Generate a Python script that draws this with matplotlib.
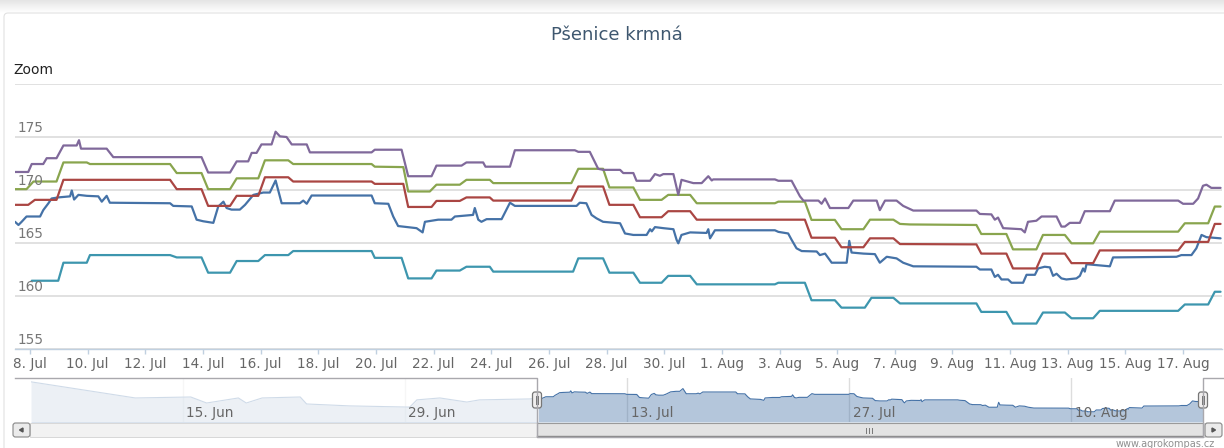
import numpy as np
import pandas as pd
import matplotlib
matplotlib.use("Agg")
import matplotlib.pyplot as plt
from matplotlib.patches import Rectangle, FancyBboxPatch, Polygon

# ---------------- data (x = days since 8 Jul 2014, y = price) ----------------
base_date = pd.Timestamp("2014-07-08")
title_text = "Pšenice krmná"

blue_t = [-0.52, -0.40, -0.29, -0.12, 0.35, 0.46, 0.64, 0.75, 0.98, 1.39, 1.45, 1.53, 1.68, 1.97, 2.37, 2.49,
          2.66, 2.77, 4.86, 4.97, 5.61, 5.78, 6.01, 6.36, 6.53, 6.71, 6.82, 6.99, 7.28, 7.46, 7.75, 8.09,
          8.32, 8.52, 8.73, 9.36, 9.48, 9.60, 9.77, 11.85, 11.96, 12.43, 12.6, 12.77, 13.41, 13.62, 13.7,
          14.16, 14.62, 14.74, 15.37, 15.43, 15.55, 15.66, 15.84, 16.36, 16.65, 16.82, 18.96, 19.07, 19.3,
          19.48, 19.65, 19.88, 20.47, 20.64, 20.93, 21.39, 21.51, 21.57, 21.68, 21.97, 22.32, 22.43, 22.49,
          22.6, 22.9, 23.47, 23.53, 23.59, 23.76, 25.84, 25.96, 26.3, 26.42, 26.59, 26.77, 27.29, 27.4,
          27.58, 27.81, 28.33, 28.42, 28.5, 28.91, 29.31, 29.48, 29.72, 30.06, 30.29, 30.64, 32.83, 32.95,
          33.35, 33.47, 33.58, 33.7, 33.93, 34.05, 34.45, 34.57, 34.86, 34.97, 35.2, 35.38, 35.49, 35.61,
          35.78, 35.95, 36.3, 36.42, 36.53, 36.59, 36.65, 37.46, 37.57, 39.77, 39.94, 40.29, 40.46, 40.64,
          40.81, 41.3]
blue_v = [167.0, 166.7, 167.0, 167.5, 167.5, 168.1, 168.75, 169.2, 169.3, 169.4, 169.95, 169.1, 169.54, 169.45,
          169.4, 168.9, 169.45, 168.8, 168.75, 168.5, 168.45, 167.2, 167.05, 166.9, 168.44, 168.9, 168.3,
          168.15, 168.15, 168.6, 169.54, 169.76, 169.76, 170.9, 168.75, 168.75, 169.0, 168.7, 169.48, 169.48,
          168.75, 168.7, 167.5, 166.6, 166.4, 166.0, 167.0, 167.2, 167.2, 167.5, 167.65, 168.3, 167.2, 167.0,
          167.25, 167.25, 168.8, 168.5, 168.5, 168.8, 168.75, 167.65, 167.33, 167.0, 166.86, 165.9, 165.76,
          165.76, 166.3, 166.1, 166.5, 166.4, 166.3, 165.3, 164.97, 165.76, 166.0, 165.95, 166.3, 165.44,
          166.2, 166.2, 166.05, 165.9, 165.3, 164.5, 164.24, 164.2, 163.86, 164.0, 163.14, 163.14, 165.2,
          164.1, 164.0, 163.95, 163.14, 163.7, 163.55, 163.14, 162.8, 162.76, 162.5, 162.5, 161.8, 162.0,
          161.56, 161.56, 161.25, 161.25, 162.0, 162.0, 162.6, 162.76, 162.7, 161.9, 162.1, 161.66, 161.56,
          161.66, 161.9, 162.6, 162.3, 163.0, 162.8, 163.64, 163.7, 163.86, 163.86, 164.5, 165.76, 165.55,
          165.44]

red_t = [-0.52, -0.06, 0.17, 0.92, 1.16, 4.86, 5.09, 5.95, 6.18, 6.94, 7.17, 7.92, 8.15, 8.96, 9.13, 11.85,
         11.96, 12.95, 13.12, 13.93, 14.1, 14.91, 15.14, 15.95, 16.07, 18.78, 19.02, 19.88, 20.1, 20.93,
         21.16, 21.91, 22.14, 22.9, 23.13, 26.88, 27.11, 27.92, 28.15, 28.91, 29.14, 29.95, 30.18, 32.83,
         33.0, 33.87, 34.1, 34.91, 35.14, 35.9, 36.13, 36.88, 37.11, 39.83, 40.06, 40.87, 41.1, 41.3]
red_v = [168.6, 168.6, 169.07, 169.07, 170.96, 170.96, 170.08, 170.08, 168.5, 168.5, 169.45, 169.45, 171.2,
         171.2, 170.8, 170.8, 170.58, 170.58, 168.4, 168.4, 168.97, 168.97, 169.3, 169.3, 169.0, 169.0,
         170.33, 170.33, 168.6, 168.6, 167.43, 167.43, 168.0, 168.0, 167.2, 167.2, 165.5, 165.5, 164.6,
         164.6, 165.44, 165.44, 164.9, 164.87, 164.0, 164.0, 162.6, 162.6, 164.0, 164.0, 163.1, 163.1,
         164.3, 164.3, 165.1, 165.1, 166.8, 166.8]

green_t = [-0.52, -0.12, 0.12, 0.92, 1.16, 1.97, 2.08, 4.86, 5.09, 5.95, 6.18, 6.94, 7.17, 7.92, 8.15, 8.96,
           9.13, 11.85, 11.96, 12.95, 13.12, 13.87, 14.1, 14.91, 15.14, 15.95, 16.07, 18.78, 19.02, 19.88,
           20.1, 20.93, 21.16, 21.91, 22.14, 22.9, 23.13, 25.84, 25.96, 26.88, 27.11, 27.92, 28.15, 28.91,
           29.14, 29.95, 30.18, 30.52, 32.83, 33.0, 33.87, 34.1, 34.91, 35.14, 35.9, 36.13, 36.88, 37.11,
           39.83, 40.06, 40.87, 41.1, 41.3]
green_v = [170.08, 170.08, 170.8, 170.8, 172.6, 172.6, 172.45, 172.45, 171.6, 171.6, 170.08, 170.08, 171.1,
           171.1, 172.8, 172.8, 172.45, 172.45, 172.2, 172.16, 169.86, 169.86, 170.5, 170.5, 170.96, 170.96,
           170.65, 170.65, 172.0, 172.0, 170.24, 170.24, 169.07, 169.07, 169.54, 169.54, 168.75, 168.75,
           168.9, 168.9, 167.18, 167.18, 166.3, 166.3, 167.2, 167.2, 166.8, 166.75, 166.7, 165.85, 165.85,
           164.4, 164.4, 165.76, 165.76, 164.97, 164.97, 166.07, 166.07, 166.86, 166.86, 168.44, 168.44]

purple_t = [-0.52, -0.06, 0.06, 0.46, 0.58, 0.92, 1.16, 1.62, 1.70, 1.77, 2.66, 2.89, 5.95, 6.18, 6.94, 7.17,
            7.57, 7.69, 7.86, 8.03, 8.38, 8.52, 8.67, 8.90, 9.08, 9.60, 9.71, 11.85, 11.96, 12.89, 13.12,
            13.93, 14.1, 14.97, 15.14, 15.72, 15.8, 16.65, 16.82, 18.9, 19.02, 19.42, 19.71, 19.88, 20.47,
            20.58, 20.93, 21.04, 21.51, 21.68, 21.85, 21.97, 22.32, 22.49, 22.6, 23.01, 23.3, 23.53, 23.65,
            23.7, 25.84, 25.96, 26.42, 26.71, 26.83, 27.35, 27.46, 27.58, 27.75, 28.39, 28.56, 29.37, 29.48,
            29.66, 30.06, 30.29, 30.64, 32.83, 32.95, 33.35, 33.47, 33.58, 33.76, 34.39, 34.51, 34.62, 34.91,
            35.09, 35.61, 35.78, 35.9, 36.07, 36.42, 36.59, 37.46, 37.63, 39.83, 40.0, 40.35, 40.52, 40.69,
            40.81, 40.98, 41.3]
purple_v = [171.7, 171.7, 172.45, 172.45, 173.0, 173.0, 174.2, 174.2, 174.7, 173.9, 173.9, 173.1, 173.1,
            171.65, 171.65, 172.7, 172.7, 173.5, 173.5, 174.3, 174.3, 175.5, 175.06, 175.0, 174.3, 174.3,
            173.55, 173.55, 173.8, 173.8, 171.3, 171.3, 172.3, 172.3, 172.6, 172.6, 172.2, 172.2, 173.75,
            173.75, 173.6, 173.6, 172.0, 171.9, 171.9, 171.6, 171.6, 170.87, 170.87, 171.5, 171.34, 171.5,
            171.5, 169.54, 170.96, 170.65, 170.65, 171.3, 170.9, 171.0, 171.0, 170.87, 170.87, 169.4, 169.0,
            169.0, 168.7, 169.2, 168.3, 168.3, 169.0, 169.0, 168.1, 169.0, 169.0, 168.5, 168.06, 168.06,
            167.74, 167.7, 167.2, 167.4, 166.4, 166.3, 166.0, 167.0, 167.1, 167.5, 167.5, 166.55, 166.55,
            166.9, 166.9, 168.0, 168.0, 169.0, 169.0, 168.7, 168.7, 169.2, 170.4, 170.5, 170.2, 170.2]

teal_t = [0.06, 0.98, 1.16, 1.97, 2.08, 4.86, 5.09, 5.95, 6.18, 6.94, 7.17, 7.92, 8.15, 8.96, 9.13, 11.85,
          11.96, 12.89, 13.12, 13.93, 14.1, 14.91, 15.14, 15.95, 16.07, 18.84, 19.02, 19.88, 20.1, 20.93,
          21.16, 21.91, 22.14, 22.9, 23.13, 25.84, 25.96, 26.88, 27.11, 27.92, 28.15, 28.96, 29.19, 29.95,
          30.18, 32.83, 33.0, 33.87, 34.1, 34.91, 35.14, 35.9, 36.13, 36.88, 37.11, 39.83, 40.06, 40.87,
          41.1, 41.3]
teal_v = [161.44, 161.44, 163.14, 163.14, 163.86, 163.86, 163.64, 163.64, 162.2, 162.2, 163.3, 163.3, 163.86,
          163.86, 164.24, 164.24, 163.6, 163.6, 161.66, 161.66, 162.4, 162.4, 162.76, 162.76, 162.3, 162.3,
          163.55, 163.55, 162.2, 162.2, 161.25, 161.25, 161.9, 161.9, 161.1, 161.1, 161.25, 161.25, 159.6,
          159.6, 158.9, 158.9, 159.83, 159.83, 159.3, 159.3, 158.5, 158.5, 157.4, 157.4, 158.44, 158.44,
          157.9, 157.9, 158.6, 158.6, 159.2, 159.2, 160.4, 160.4]

# navigator: earlier history of the first series (before the zoomed window)
nav_early_t = [-32.57, -26.0, -22.5, -21.5, -19.5, -19.0, -18.0, -15.6, -15.2, -12.5, -8.7, -8.25, -6.8,
               -5.1, -4.3, -1.1]
nav_early_v = [173.7, 167.0, 167.4, 164.9, 167.0, 164.9, 167.0, 167.4, 164.5, 163.7, 163.2, 166.2, 167.0,
               165.3, 166.2, 166.6]

series = [
    (blue_t, blue_v, "#4572A7"),
    (red_t, red_v, "#AA4643"),
    (green_t, green_v, "#89A54E"),
    (purple_t, purple_v, "#80699B"),
    (teal_t, teal_v, "#3D96AE"),
]

y_ticks = [155, 160, 165, 170, 175, 180]
x_tick_dates = pd.date_range("2014-07-08", "2014-08-17", freq="2D")
nav_tick_dates = pd.date_range("2014-06-15", "2014-08-10", freq="14D")
view_range = (-0.52, 41.35)
nav_yrange = (157.0, 175.3)


def day_of(d):
    return (d - base_date) / pd.Timedelta(days=1)


def fmt(d):
    return f"{d.day}. {d.strftime('%b')}"


# ---------------- figure ----------------
W, H = 1224, 448
fig = plt.figure(figsize=(W / 100, H / 100), dpi=100)
fig.patch.set_facecolor("white")


def px_axes(l, t, r, b, **kw):
    return fig.add_axes([l / W, 1 - b / H, (r - l) / W, (b - t) / H], **kw)


# background / decorations layer
bg = px_axes(0, 0, W, H, zorder=0)
bg.set_xlim(0, W)
bg.set_ylim(H, 0)
bg.axis("off")
grad = np.linspace(0.90, 1.0, 14).reshape(-1, 1)
bg.imshow(np.dstack([grad, grad, grad]), extent=(0, W, 13, 0), aspect="auto", interpolation="bilinear")
bg.add_patch(FancyBboxPatch((4, 13), W + 20, H, boxstyle="round,pad=0,rounding_size=4",
                            facecolor="white", edgecolor="#e2e2e2", lw=0.8))

fig.text(617 / W, 1 - 35 / H, title_text, ha="center", va="center", fontsize=13, color="#3E576F")
fig.text(13 / W, 1 - 70 / H, "Zoom", ha="left", va="center", fontsize=10, color="#222222")

# ---------------- main plot ----------------
ax = px_axes(15, 84, 1222, 349, zorder=2)
ax.set_facecolor("none")
for t, v, c in series:
    ax.plot(t, v, color=c, lw=1.6, solid_joinstyle="round", solid_capstyle="round", zorder=3)
ax.set_xlim(*view_range)
ax.set_ylim(y_ticks[0], y_ticks[-1])
ax.set_yticks(y_ticks)
ax.yaxis.grid(True, color="#d9d9d9", lw=1.1)
ax.tick_params(axis="y", length=0, labelleft=False)
for s in ["left", "right", "top"]:
    ax.spines[s].set_visible(False)
ax.spines["bottom"].set_color("#C0D0E0")
ax.spines["bottom"].set_linewidth(1.0)
ax.spines["bottom"].set_zorder(4)
ax.set_xticks([day_of(d) for d in x_tick_dates])
ax.set_xticklabels([fmt(d) for d in x_tick_dates])
ax.tick_params(axis="x", length=3.5, width=1, color="#C0D0E0", labelcolor="#666666",
               labelsize=9.8, pad=2)
for v in y_ticks[:-1]:
    ax.annotate(str(v), xy=(0, v), xycoords=("axes fraction", "data"), xytext=(1.5, 1.5),
                textcoords="offset points", ha="left", va="bottom", fontsize=9.8, color="#777777")

# ---------------- navigator ----------------
nav = px_axes(31, 378, 1203, 422, zorder=2)
nav.set_facecolor("none")
nav_t = nav_early_t + blue_t
nav_v = nav_early_v + blue_v
nav.fill_between(nav_t, nav_v, nav_yrange[0], color="#4572A7", alpha=0.4, lw=0, zorder=2)
nav.plot(nav_t, nav_v, color="#4572A7", lw=0.8, zorder=3)
nav.set_xlim(nav_t[0], blue_t[-1])
nav.set_ylim(*nav_yrange)
nav.axis("off")
for d in nav_tick_dates:
    x = day_of(d)
    nav.axvline(x, color="#dddddd", lw=1, zorder=1)
    nav.annotate(fmt(d), xy=(x, 0.2), xycoords=("data", "axes fraction"), xytext=(2.5, 0),
                 textcoords="offset points", ha="left", va="center", fontsize=9.8, color="#666666",
                 zorder=6)
nav.axvspan(nav_t[0], view_range[0], color="white", alpha=0.75, lw=0, zorder=4)

# ---------------- scrollbar, handles, outline (pixel layer on top) ----------------
top = px_axes(0, 0, W, H, zorder=5)
top.set_xlim(0, W)
top.set_ylim(H, 0)
top.axis("off")
top.patch.set_alpha(0)

top.add_patch(Rectangle((30, 423), 1175, 14, facecolor="#f2f2f2", edgecolor="#d8d8d8", lw=0.7))
top.add_patch(Rectangle((537, 423), 666, 14, facecolor="#e3e3e3", edgecolor="#9a9a9a", lw=0.8))
top.plot([537, 1203], [436.5, 436.5], color="#888888", lw=1.0)
for gx in [866, 869, 872]:
    top.plot([gx, gx], [428, 433], color="#777777", lw=0.7)
for bx, direction in [(13, -1), (1205, 1)]:
    top.add_patch(FancyBboxPatch((bx, 423), 17, 14, boxstyle="round,pad=0,rounding_size=2.5",
                                 facecolor="#ebebeb", edgecolor="#888888", lw=0.8))
    cx = bx + 8.5
    top.add_patch(Polygon([[cx + 2 * direction, 430], [cx - 1.5 * direction, 428],
                           [cx - 1.5 * direction, 432]], closed=True, color="#555555"))

top.plot([15, 537, 537, 1203, 1203, 1224], [378, 378, 437, 437, 378, 378], color="#a9a8ad", lw=1.0)
for hx in [537, 1203]:
    top.add_patch(FancyBboxPatch((hx - 4.5, 392), 9, 16, boxstyle="round,pad=0,rounding_size=2.5",
                                 facecolor="#f0eeee", edgecolor="#777777", lw=0.9))
    top.plot([hx - 1.2, hx - 1.2], [396, 404], color="#777777", lw=0.7)
    top.plot([hx + 1.2, hx + 1.2], [396, 404], color="#777777", lw=0.7)

fig.text(1215 / W, 1 - 444 / H, "www.agrokompas.cz", ha="right", va="center", fontsize=7,
         color="#909090")

fig.savefig("out.png", dpi=100, facecolor="white")
